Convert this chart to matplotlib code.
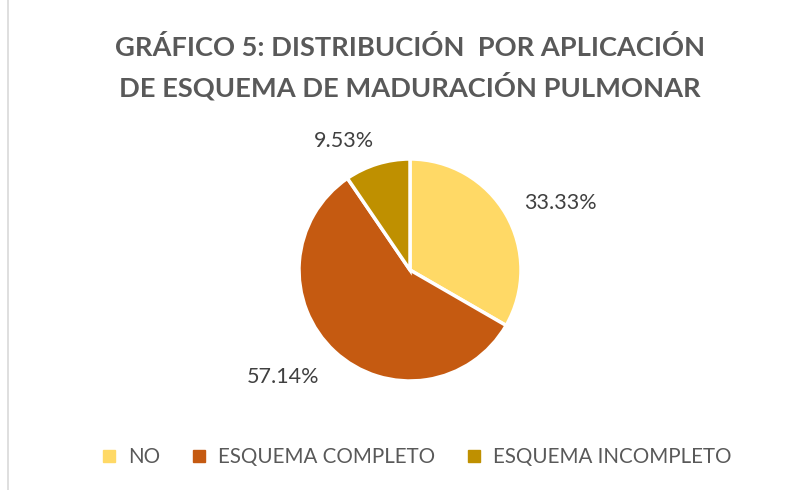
import matplotlib
matplotlib.use("Agg")
import matplotlib.pyplot as plt
from matplotlib.lines import Line2D
import numpy as np

# data
categories = ["NO", "ESQUEMA COMPLETO", "ESQUEMA INCOMPLETO"]
values = [33.33, 57.14, 9.53]
pct_labels = ["33.33%", "57.14%", "9.53%"]
colors = ["#FFD966", "#C55A11", "#BF9000"]

plt.rcParams['font.family'] = ['Lato', 'DejaVu Sans']

fig = plt.figure(figsize=(7.97, 4.9), dpi=100)
W, H = 797.0, 490.0

# pie axes placed so the circle is centered at (410, 270) px, radius 111 px
cx, cy, r = 410, 270, 111
ax = fig.add_axes([(cx - r) / W, (H - cy - r) / H, 2 * r / W, 2 * r / H])
wedges, _ = ax.pie(values, colors=colors, startangle=90, counterclock=False,
                   radius=1, wedgeprops=dict(edgecolor="white", linewidth=2.5))
ax.set_xlim(-1, 1)
ax.set_ylim(-1, 1)
ax.set_aspect("equal")
ax.axis("off")

# data labels, outside the wedges
label_dist = [1.48, 1.50, 1.31]
label_shift = [-6, -7, 10]
for w, lab, d, s in zip(wedges, pct_labels, label_dist, label_shift):
    ang = np.deg2rad((w.theta1 + w.theta2) / 2 + s)
    ax.text(d * np.cos(ang), d * np.sin(ang), lab, ha="center", va="center",
            fontsize=15.5, color="#404040", clip_on=False)

fig.text(410 / W, 1 - 47 / H, "GRÁFICO 5: DISTRIBUCIÓN  POR APLICACIÓN",
         ha="center", va="center", fontsize=19.6, fontweight="bold", color="#595959")
fig.text(410 / W, 1 - 86 / H, "DE ESQUEMA DE MADURACIÓN PULMONAR",
         ha="center", va="center", fontsize=19.6, fontweight="bold", color="#595959")

handles = [Line2D([0], [0], marker="s", linestyle="", markersize=8,
                  markerfacecolor=c, markeredgecolor=c) for c in colors]
fig.legend(handles, categories, loc="center", bbox_to_anchor=(415 / W, 1 - 457 / H),
           ncol=3, frameon=False, fontsize=14.8, labelcolor="#595959",
           handletextpad=0.43, columnspacing=1.4, handlelength=1.0)

# chart border on the left
fig.add_artist(Line2D([8 / W, 8 / W], [0, 1], color="#D9D9D9", linewidth=1.2))

fig.savefig("out.png", dpi=100)
